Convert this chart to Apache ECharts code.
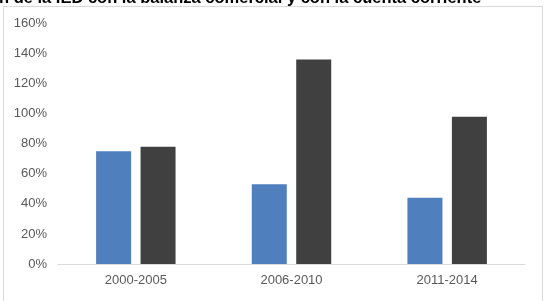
<!DOCTYPE html>
<html>
<head>
<meta charset="utf-8">
<script src="https://cdn.jsdelivr.net/npm/echarts@6/dist/echarts.min.js"></script>
<style>
    html, body { margin: 0; padding: 0; background: #fff; }
    #chart-box { width: 547px; height: 301px; }
</style>
</head>
<body>
<div id="chart-box"></div>
<script>
var titleText = 'n de la IED con la balanza comercial y con la cuenta corriente';
var periods = ['2000-2005', '2006-2010', '2011-2014'];
var balanzaComercial = [75, 53, 44];
var cuentaCorriente = [78, 136, 98];
var yTicks = { min: 0, max: 160, interval: 20 };

var myChart = echarts.init(document.getElementById('chart-box'));

var labelFont = '"Liberation Sans", Arial, sans-serif';

var option = {
    animation: false,
    graphic: [
        {
            type: 'rect',
            shape: { x: 3.5, y: 6.5, width: 539, height: 310 },
            style: { fill: 'none', stroke: '#d9d9d9', lineWidth: 1 },
            z: 0
        },
        {
            type: 'text',
            left: -1,
            top: -10,
            style: {
                text: titleText,
                font: 'bold 16.5px "Liberation Sans", Arial, sans-serif',
                fill: '#000'
            },
            z: 10
        }
    ],
    grid: {
        left: 58,
        right: 22,
        top: 23.5,
        bottom: 37
    },
    xAxis: {
        type: 'category',
        data: periods,
        axisTick: { show: false },
        axisLine: { lineStyle: { color: '#d9d9d9', width: 1 } },
        axisLabel: {
            color: '#595959',
            fontSize: 13,
            fontFamily: labelFont,
            margin: 10
        }
    },
    yAxis: {
        type: 'value',
        min: yTicks.min,
        max: yTicks.max,
        interval: yTicks.interval,
        axisLine: { show: false },
        axisTick: { show: false },
        splitLine: { show: false },
        axisLabel: {
            formatter: '{value}%',
            color: '#595959',
            fontSize: 13,
            fontFamily: labelFont,
            margin: 11
        }
    },
    series: [
        {
            name: 'Balanza comercial',
            type: 'bar',
            data: balanzaComercial,
            barWidth: 35,
            barGap: '27%',
            itemStyle: { color: '#4f7fbd' }
        },
        {
            name: 'Cuenta corriente',
            type: 'bar',
            data: cuentaCorriente,
            barWidth: 35,
            barGap: '27%',
            itemStyle: { color: '#404040' }
        }
    ]
};
myChart.setOption(option);
</script>
</body>
</html>
